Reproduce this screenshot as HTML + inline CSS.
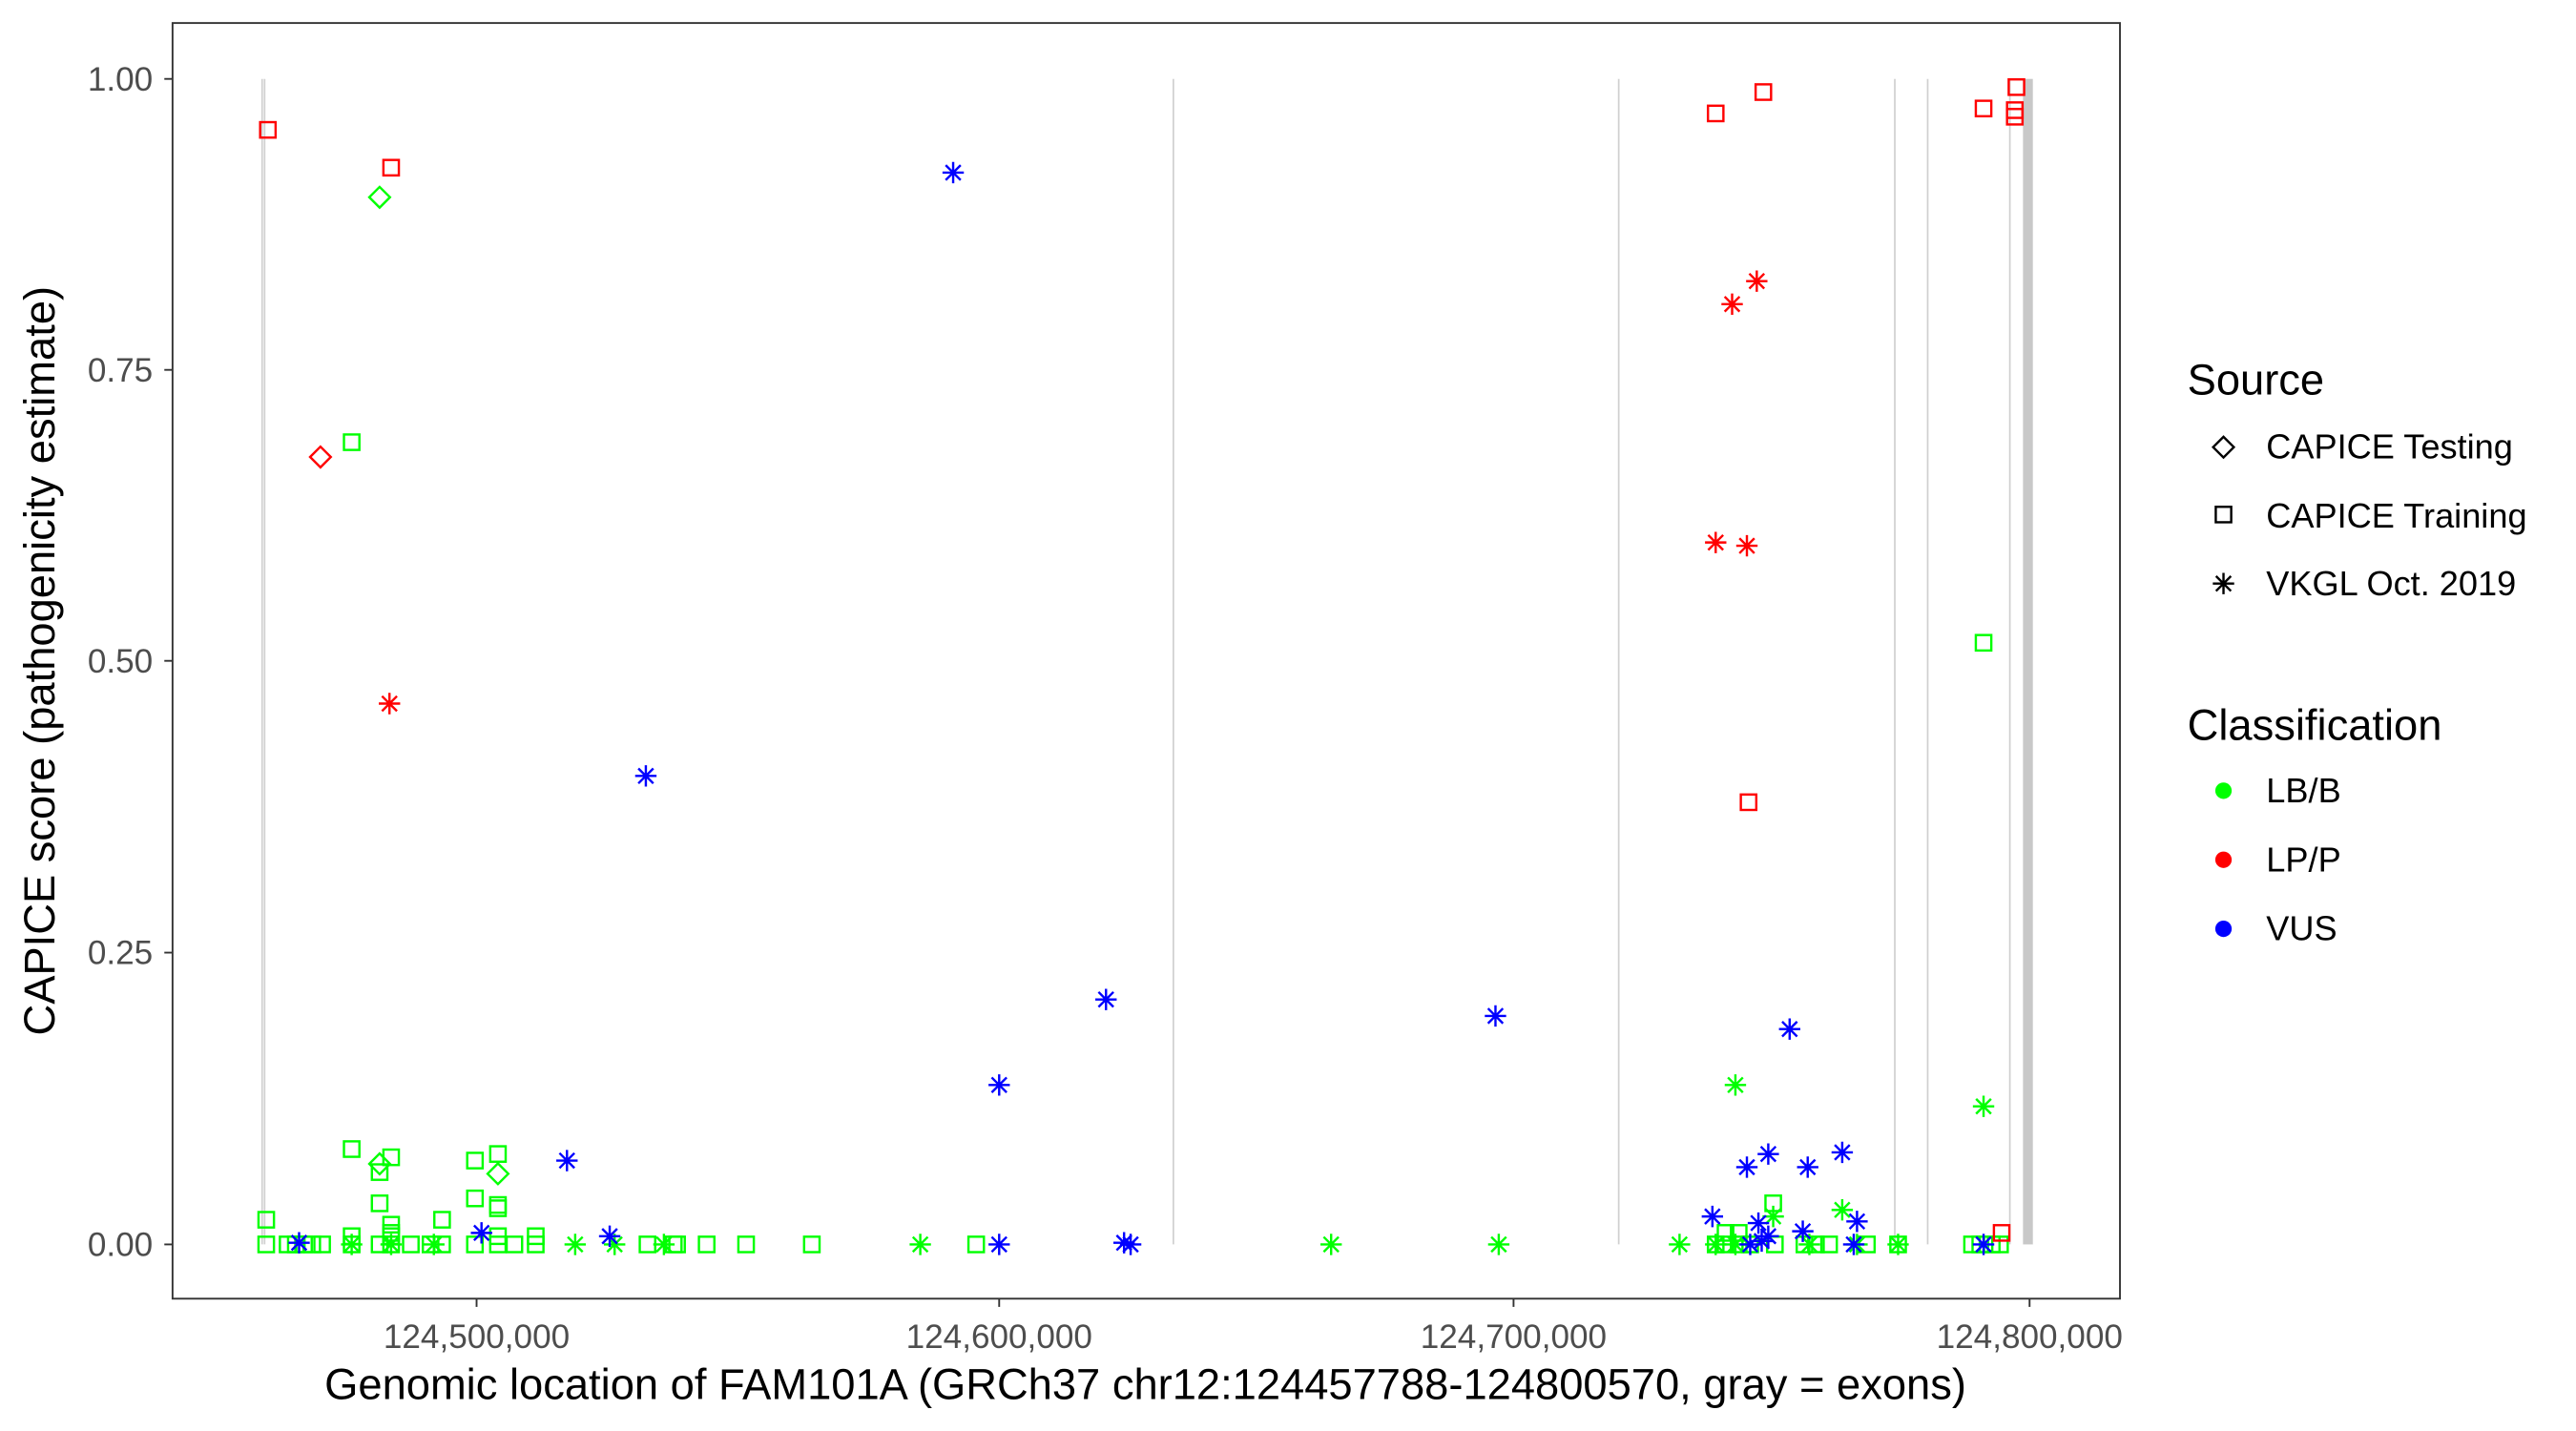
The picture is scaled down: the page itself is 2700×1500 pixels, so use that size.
<!DOCTYPE html>
<html><head><meta charset="utf-8"><style>
html,body{margin:0;padding:0;background:#fff;}
svg{display:block;font-family:"Liberation Sans",Arial,sans-serif;}
</style></head><body>
<svg id="s" width="2700" height="1500" viewBox="0 0 1567.5 870.5" preserveAspectRatio="none" xmlns="http://www.w3.org/2000/svg">
<rect x="0" y="0" width="1567.5" height="870.5" fill="#fff"/>
<g id="exons" stroke="#d0d0d0" stroke-width="1">
<line x1="159.5" y1="48" x2="159.5" y2="757"/>
<line x1="161" y1="48" x2="161" y2="757"/>
<line x1="714" y1="48" x2="714" y2="757"/>
<line x1="985" y1="48" x2="985" y2="757"/>
<line x1="1153" y1="48" x2="1153" y2="757"/>
<line x1="1173" y1="48" x2="1173" y2="757"/>
<line x1="1223" y1="48" x2="1223" y2="757"/>
<rect x="1231" y="48" width="6" height="709" fill="#c8c8c8" stroke="none"/>
</g>
<g id="pts" fill="none" stroke-width="1.4"></g>
<rect x="105" y="14" width="1185" height="776" fill="none" stroke="#333" stroke-width="1.1"/>
<g stroke="#333" stroke-width="1.1">
<line x1="100" y1="48" x2="105" y2="48"/><line x1="100" y1="225" x2="105" y2="225"/>
<line x1="100" y1="402" x2="105" y2="402"/><line x1="100" y1="579.5" x2="105" y2="579.5"/>
<line x1="100" y1="757" x2="105" y2="757"/>
<line x1="290" y1="790" x2="290" y2="795"/><line x1="608" y1="790" x2="608" y2="795"/>
<line x1="921" y1="790" x2="921" y2="795"/><line x1="1235" y1="790" x2="1235" y2="795"/>
</g>
<g fill="#4d4d4d" font-size="20.4" text-anchor="end">
<text x="93" y="55">1.00</text><text x="93" y="232">0.75</text><text x="93" y="409">0.50</text>
<text x="93" y="586.5">0.25</text><text x="93" y="764">0.00</text>
</g>
<g fill="#4d4d4d" font-size="20.4" text-anchor="middle">
<text x="290" y="820">124,500,000</text><text x="608" y="820">124,600,000</text>
<text x="921" y="820">124,700,000</text><text x="1235" y="820">124,800,000</text>
</g>
<text x="697" y="851" font-size="26.3" text-anchor="middle" fill="#000">Genomic location of FAM101A (GRCh37 chr12:124457788-124800570, gray = exons)</text>
<text transform="translate(33,402) rotate(-90)" font-size="26.3" text-anchor="middle" fill="#000">CAPICE score (pathogenicity estimate)</text>
<g font-size="26.3" fill="#000"><text x="1331" y="240">Source</text><text x="1331" y="450">Classification</text></g>
<g font-size="21" fill="#000">
<text x="1379" y="279">CAPICE Testing</text><text x="1379" y="321">CAPICE Training</text><text x="1379" y="362">VKGL Oct. 2019</text>
<text x="1379" y="488">LB/B</text><text x="1379" y="530">LP/P</text><text x="1379" y="572">VUS</text>
</g>
<g id="leg" fill="none" stroke="#000" stroke-width="1.4"></g>
<circle cx="1353" cy="481" r="5" fill="#00ff00"/>
<circle cx="1353" cy="523" r="5" fill="#ff0000"/>
<circle cx="1353" cy="565" r="5" fill="#0000ff"/>
</svg>
<script>
var NS="http://www.w3.org/2000/svg";
function el(p,t,a){var e=document.createElementNS(NS,t);for(var k in a)e.setAttribute(k,a[k]);p.appendChild(e);return e;}
function sq(p,x,y,c){el(p,"rect",{x:x-4.7,y:y-4.7,width:9.4,height:9.4,stroke:c,fill:"none"});}
function di(p,x,y,c){el(p,"path",{d:"M"+x+" "+(y-6.3)+"L"+(x+6.3)+" "+y+"L"+x+" "+(y+6.3)+"L"+(x-6.3)+" "+y+"Z",stroke:c,fill:"none"});}
function as(p,x,y,c){var r=6.5,d="M"+(x-r)+" "+y+"H"+(x+r)+"M"+x+" "+(y-r)+"V"+(y+r);
 var a=r*0.7;d+="M"+(x-a)+" "+(y-a)+"L"+(x+a)+" "+(y+a)+"M"+(x-a)+" "+(y+a)+"L"+(x+a)+" "+(y-a);
 el(p,"path",{d:d,stroke:c,fill:"none"});}
var g=document.getElementById("pts"),G="#00ff00",R="#ff0000",B="#0000ff";
[[214,269],[1207,391],[214,699],[238,704],[289,706],[303,702],[231,713],[231,732],[289,729],[303,733],[303,735],[162,742],[269,742],[238,745],[238,750],[1079,732],[214,752],[238,752],[303,752],[326,752],[1058,750],[1050,750]].forEach(function(p){sq(g,p[0],p[1],G);});
[162,175,180,185,190,196,214,231,238,250,262,269,289,303,313,326,394,410,412,430,454,494,594,1044,1050,1058,1065,1080,1098,1105,1113,1136,1155,1200,1205,1212,1217].forEach(function(x){sq(g,x,757,G);});
[[231,120],[231,708],[303,714]].forEach(function(p){di(g,p[0],p[1],G);});
[[1056,660],[1207,673],[1121,736],[1079,740]].forEach(function(p){as(g,p[0],p[1],G);});
[214,238,264,350,374,404,560,810,912,1022,1044,1056,1101,1130,1155].forEach(function(x){as(g,x,757,G);});
[[580,105],[393,472],[673,608],[608,660],[910,618],[1089,626],[345,706],[1076,702],[1063,710],[1100,710],[1121,701],[1042,740],[1070,744],[1130,743],[1097,749],[182,756],[293,750],[371,752],[608,757],[684,756],[688,757],[1065,757],[1072,755],[1076,752],[1128,757],[1207,757]].forEach(function(p){as(g,p[0],p[1],B);});
[[163,79],[238,102],[1044,69],[1073,56],[1064,488],[1207,66],[1227,53],[1226,67],[1226,71],[1218,750]].forEach(function(p){sq(g,p[0],p[1],R);});
di(g,195,278,R);
[[237,428],[1054,185],[1069,171],[1044,330],[1063,332]].forEach(function(p){as(g,p[0],p[1],R);});
var l=document.getElementById("leg");
di(l,1353,272,"#000");sq(l,1353,313,"#000");as(l,1353,355,"#000");
</script>
</body></html>
